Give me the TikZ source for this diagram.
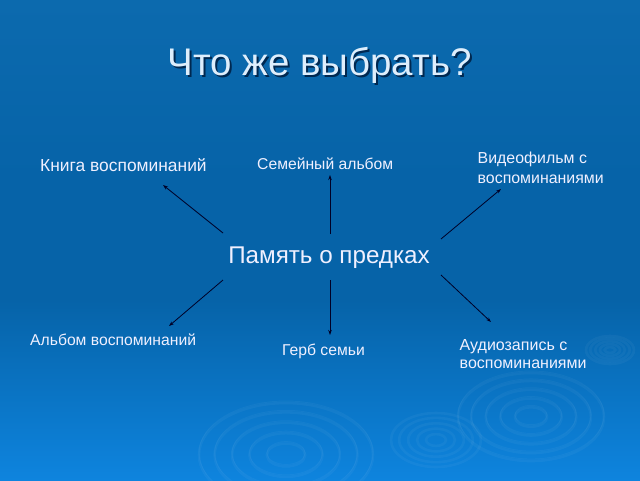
\documentclass[tikz,border=0pt]{standalone}
\usepackage{fontspec}
\setmainfont{Liberation Sans}
\usetikzlibrary{arrows.meta}
\definecolor{bgtop}{RGB}{12,106,174}
\definecolor{bgmid}{RGB}{6,99,168}
\definecolor{bgbot}{RGB}{14,132,222}
\pgfdeclareverticalshading{bgsh}{100bp}{color(0bp)=(bgbot); color(25bp)=(bgbot); color(43.75bp)=(bgmid); color(56.25bp)=(bgmid); color(75bp)=(bgtop); color(100bp)=(bgtop)}
\begin{document}
\begin{tikzpicture}[x=1pt,y=-1pt,
  lbl/.style={text=white!94!blue, font=\fontsize{15.7}{19}\selectfont, inner sep=0pt, anchor=base west, align=left},
  conn/.style={draw=black!85!blue, line width=0.8pt, -{Stealth[length=5pt,width=3.5pt]}},
  ripple/.style={draw=white, draw opacity=0.04, line width=2.6pt},
  ripplethin/.style={draw=white, draw opacity=0.04, line width=0.9pt}]
\useasboundingbox (0,0) rectangle (640,480);
\shade[shading=bgsh] (0,0) rectangle (640,480);
% ripples
\foreach \r in {0.22,0.42,0.62,0.82,1.0}{
  \draw[ripple] (531,417) ellipse ({73*\r} and {44*\r});
  \draw[ripple] (286,455) ellipse ({87*\r} and {52*\r});
  \draw[ripple] (436,440) ellipse ({45*\r} and {27*\r});
  \draw[ripple] (610,350) ellipse ({24*\r} and {14*\r});
  \draw[ripplethin] (531,415) ellipse ({73*\r} and {44*\r});
  \draw[ripplethin] (286,453) ellipse ({87*\r} and {52*\r});
}
% title
\node[text={rgb,255:red,0;green,40;blue,80}, font=\fontsize{38.5}{46}\selectfont, anchor=base] at (321.5,77.5) {Что же выбрать?};
\node (title) [text={rgb,255:red,222;green,238;blue,252}, font=\fontsize{38.5}{46}\selectfont, anchor=base] at (319.5,75.5) {Что же выбрать?};
% center
\node (c) [text=white!94!blue, font=\fontsize{24.2}{28}\selectfont, anchor=base] at (329,263) {Память о предках};
% labels
\node (kniga) [lbl, font=\fontsize{17.4}{20}\selectfont] at (40,171) {Книга воспоминаний};
\node (sem) [lbl] at (257,169.5) {Семейный альбом};
\node (video) [lbl, font=\fontsize{15.9}{19.4}\selectfont] at (477.5,183) {Видеофильм с\\воспоминаниями};
\node (alb) [lbl] at (30,345) {Альбом воспоминаний};
\node (gerb) [lbl] at (282,355) {Герб семьи};
\node (audio) [lbl, font=\fontsize{16}{17.7}\selectfont] at (459.5,368) {Аудиозапись с\\воспоминаниями};
% arrow endpoints
\coordinate (s1) at (223,233); \coordinate (e1) at (163,185);
\coordinate (s2) at (330,234); \coordinate (e2) at (330,175);
\coordinate (s3) at (441,239); \coordinate (e3) at (501,189);
\coordinate (s4) at (223,280); \coordinate (e4) at (169,326);
\coordinate (s5) at (330,280); \coordinate (e5) at (330,335);
\coordinate (s6) at (441,275); \coordinate (e6) at (491,322);
\foreach \i in {1,...,6}{\draw[conn] (s\i) -- (e\i);}
\end{tikzpicture}
\end{document}
